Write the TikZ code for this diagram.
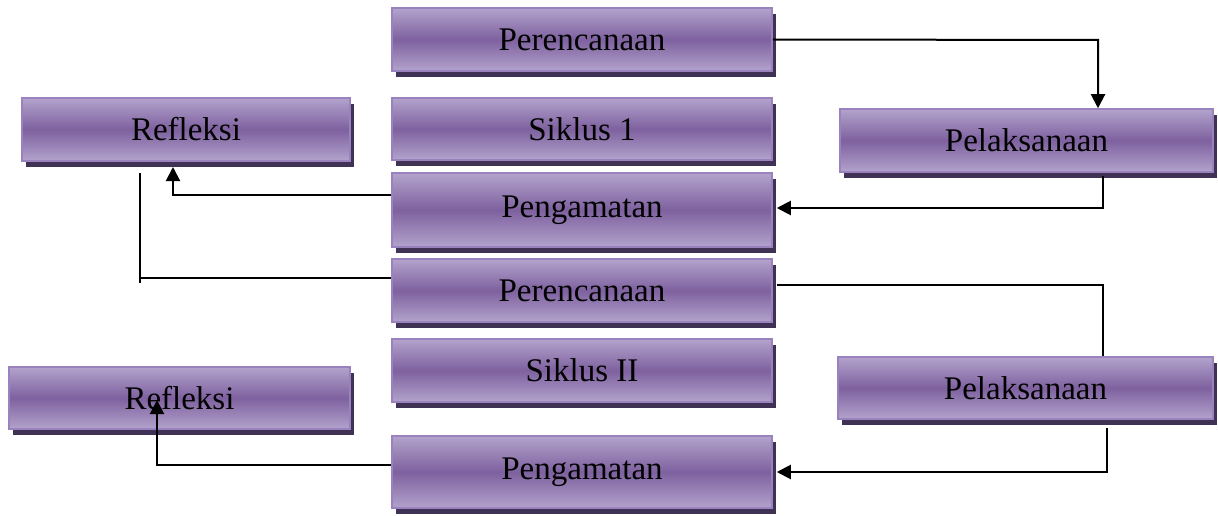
\documentclass[tikz,border=0pt]{standalone}
\usepackage{fontspec}
\setmainfont{Liberation Serif}
\usetikzlibrary{arrows.meta,shadows,calc}
\definecolor{plight}{HTML}{B3A3CC}
\definecolor{pdark}{HTML}{7E619F}
\definecolor{pborder}{HTML}{9A82BE}
\definecolor{pshadow}{HTML}{3F3254}
\tikzset{
  box/.style={rectangle, draw=pborder, line width=1.5pt, inner sep=0pt,
    top color=plight, bottom color=plight, middle color=pdark,
    drop shadow={shadow xshift=4pt, shadow yshift=-6pt, fill=pshadow, opacity=1},
    font=\fontsize{33}{38}\selectfont, text=black},
  conn/.style={draw=black, line width=2pt},
  arr/.style={conn, -{Triangle[length=14pt,width=14pt]}}
}
\begin{document}
\begin{tikzpicture}[x=1pt,y=-1pt]
\useasboundingbox (0,0) rectangle (1218,516);
% boxes
\node[box, minimum width=380pt, minimum height=63pt] (P1) at (582,39.5) {Perencanaan};
\node[box, minimum width=328pt, minimum height=63pt] (R1) at (186,129.5) {Refleksi};
\node[box, minimum width=380pt, minimum height=62pt] (S1) at (582,129) {Siklus 1};
\node[box, minimum width=373pt, minimum height=63pt] (L1) at (1026.5,140.5) {Pelaksanaan};
\node[box, minimum width=380pt, minimum height=74pt] (G1) at (582,210) {Pengamatan};
\node[box, minimum width=380pt, minimum height=63pt] (P2) at (582,290.5) {Perencanaan};
\node[box, minimum width=380pt, minimum height=63pt] (S2) at (582,370.5) {Siklus II};
\node[box, minimum width=375pt, minimum height=62pt] (L2) at (1025.5,388) {Pelaksanaan};
\node[box, minimum width=341pt, minimum height=62pt] (R2) at (179.5,398) {Refleksi};
\node[box, minimum width=380pt, minimum height=72pt] (G2) at (582,472) {Pengamatan};
% coordinates
\coordinate (c1) at (1098,40);
\coordinate (c2a) at (1103,176);
\coordinate (c2) at (1103,208);
\coordinate (c3) at (173,195);
\coordinate (c3t) at (173,167);
\coordinate (c4) at (140,278);
\coordinate (c4t) at (140,173);
\coordinate (c4b) at (140,283);
\coordinate (c5) at (1103,285);
\coordinate (c6a) at (1107,428);
\coordinate (c6) at (1107,472);
\coordinate (c7) at (157,465);
\coordinate (c7t) at (157,400);
% connectors
\draw[arr] (P1.east) -- (c1) -- (c1 |- L1.north);
\draw[arr] (c2a) -- (c2) -- ($(G1.east |- c2)+(4,0)$);
\draw[arr] (G1.west |- c3) -- (c3) -- (c3t);
\draw[conn] (P2.west |- c4) -- (c4);
\draw[conn] (c4b) -- (c4t);
\draw[conn] ($(P2.east |- c5)+(4,0)$) -- (c5) -- (c5 |- L2.north);
\draw[arr] (c6a) -- (c6) -- ($(G2.east |- c6)+(4,0)$);
\draw[arr] (G2.west |- c7) -- (c7) -- (c7t);
\end{tikzpicture}
\end{document}
